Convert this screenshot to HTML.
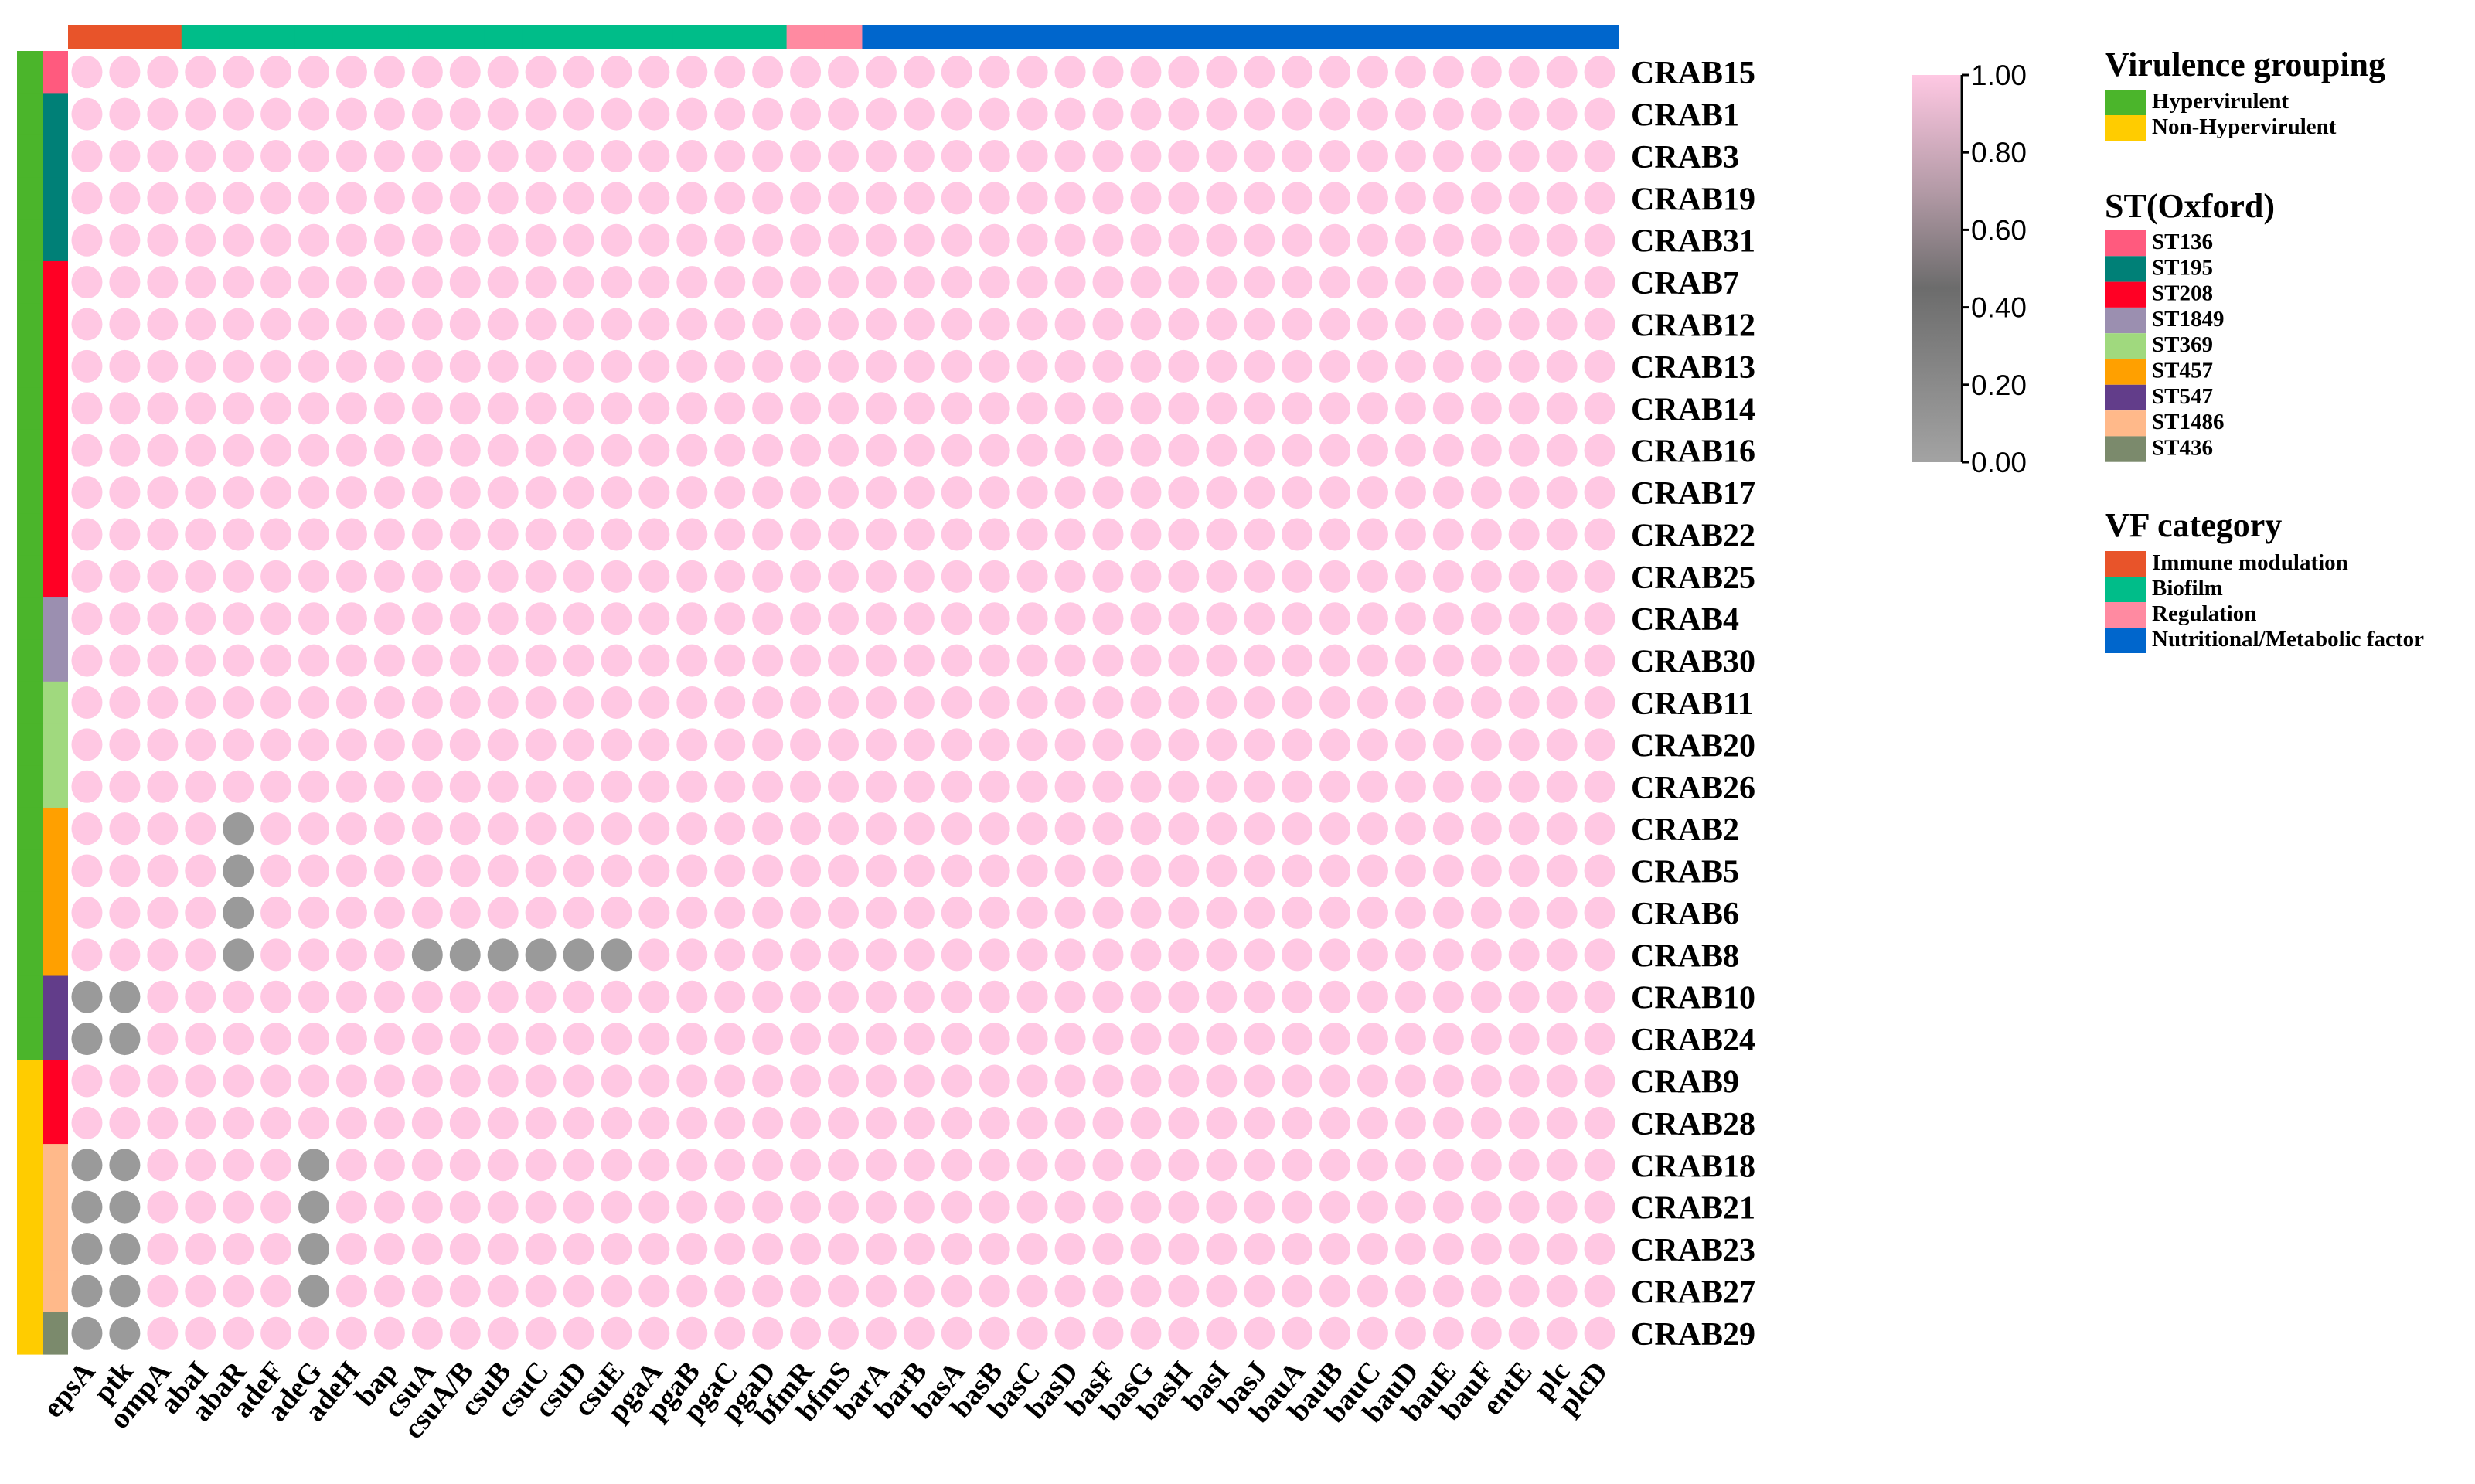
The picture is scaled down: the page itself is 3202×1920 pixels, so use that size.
<!DOCTYPE html>
<html><head><meta charset="utf-8"><style>
html,body{margin:0;padding:0;background:#fff}
svg{display:block}
text{font-family:"Liberation Serif",serif;font-weight:bold;fill:#000}
</style></head><body>
<svg id="chart" width="3202" height="1920" viewBox="0 0 3202 1920" xmlns="http://www.w3.org/2000/svg">
<defs>
<linearGradient id="cbar" x1="0" y1="1" x2="0" y2="0">
<stop offset="0" stop-color="#a3a3a3"/>
<stop offset="0.45" stop-color="#6c6c6c"/>
<stop offset="0.7" stop-color="#b39aa6"/>
<stop offset="1" stop-color="#ffc8e3"/>
</linearGradient>
</defs>
<g id="grid"></g>
<g id="legend"></g>
</svg>
<script>
const rows=["CRAB15","CRAB1","CRAB3","CRAB19","CRAB31","CRAB7","CRAB12","CRAB13","CRAB14","CRAB16","CRAB17","CRAB22","CRAB25","CRAB4","CRAB30","CRAB11","CRAB20","CRAB26","CRAB2","CRAB5","CRAB6","CRAB8","CRAB10","CRAB24","CRAB9","CRAB28","CRAB18","CRAB21","CRAB23","CRAB27","CRAB29"];
const cols=["epsA","ptk","ompA","abaI","abaR","adeF","adeG","adeH","bap","csuA","csuA/B","csuB","csuC","csuD","csuE","pgaA","pgaB","pgaC","pgaD","bfmR","bfmS","barA","barB","basA","basB","basC","basD","basF","basG","basH","basI","basJ","bauA","bauB","bauC","bauD","bauE","bauF","entE","plc","plcD"];
const colCategory=[0,0,0,1,1,1,1,1,1,1,1,1,1,1,1,1,1,1,1,2,2,3,3,3,3,3,3,3,3,3,3,3,3,3,3,3,3,3,3,3,3];
const rowVirulence=[0,0,0,0,0,0,0,0,0,0,0,0,0,0,0,0,0,0,0,0,0,0,0,0,1,1,1,1,1,1,1];
const rowST=[0,1,1,1,1,2,2,2,2,2,2,2,2,3,3,4,4,4,5,5,5,5,6,6,2,2,7,7,7,7,8];
// absent genes: [row name, column name]; everything else = 1
const absent=[["CRAB2","abaR"],["CRAB5","abaR"],["CRAB6","abaR"],["CRAB8","abaR"],["CRAB8","csuA"],["CRAB8","csuA/B"],["CRAB8","csuB"],["CRAB8","csuC"],["CRAB8","csuD"],["CRAB8","csuE"],["CRAB10","epsA"],["CRAB10","ptk"],["CRAB24","epsA"],["CRAB24","ptk"],["CRAB18","epsA"],["CRAB18","ptk"],["CRAB18","adeG"],["CRAB21","epsA"],["CRAB21","ptk"],["CRAB21","adeG"],["CRAB23","epsA"],["CRAB23","ptk"],["CRAB23","adeG"],["CRAB27","epsA"],["CRAB27","ptk"],["CRAB27","adeG"],["CRAB29","epsA"],["CRAB29","ptk"]];
const virNames=["Hypervirulent","Non-Hypervirulent"];
const virColors=["#4bb52b","#ffcc00"];
const stNames=["ST136","ST195","ST208","ST1849","ST369","ST457","ST547","ST1486","ST436"];
const stColors=["#ff5a7e","#008077","#ff0024","#9b8fb0","#a0d97e","#ffa000","#623d8a","#ffb98a","#7b8a6c"];
const vfNames=["Immune modulation","Biofilm","Regulation","Nutritional/Metabolic factor"];
const vfColors=["#e8542a","#00bd89","#ff8aa1","#0066cc"];
const cbTicks=[0,0.2,0.4,0.6,0.8,1.0];

const NS="http://www.w3.org/2000/svg";
const gx0=88,gx1=2094,gy0=66,gy1=1752;
const cw=(gx1-gx0)/cols.length, rh=(gy1-gy0)/rows.length;
const xS=i=>gx0+cw*(i+0.5), yS=i=>gy0+rh*(i+0.5);
const cbY=v=>598-(598-97)*v;
function mk(tag,attrs,parent){const e=document.createElementNS(NS,tag);for(const k in attrs)e.setAttribute(k,attrs[k]);parent.appendChild(e);return e;}
const g=document.getElementById('grid'), L=document.getElementById('legend');
function val(r,c){return absent.some(a=>a[0]===rows[r]&&a[1]===cols[c])?0:1;}
cols.forEach((c,i)=>{const e=mk('rect',{x:gx0+cw*i,y:32,width:cw+0.6,height:32,fill:vfColors[colCategory[i]]},g);

});
rows.forEach((r,j)=>{
 const a=mk('rect',{x:22,y:gy0+rh*j,width:33,height:rh+0.6,fill:virColors[rowVirulence[j]]},g);
 
 
 const b=mk('rect',{x:55,y:gy0+rh*j,width:33,height:rh+0.6,fill:stColors[rowST[j]]},g);
 
 
 const t=mk('text',{x:2110,y:yS(j)+15,'font-size':42},g);t.textContent=r;
 
 
 cols.forEach((c,i)=>{const v=val(j,i);
  const e=mk('ellipse',{cx:xS(i),cy:yS(j),rx:20,ry:21,fill:v?'#ffc8e3':'#9a9a9a'},g);
  
  });
});
cols.forEach((c,i)=>{const t=mk('text',{x:xS(i)+12,y:1775,'font-size':38,'text-anchor':'end',transform:`rotate(-50 ${xS(i)+12} 1775)`},g);t.textContent=c;
 
 });
const cb=mk('rect',{x:2474,y:97,width:62,height:501,fill:'url(#cbar)'},L);


const ax=mk('line',{x1:2538,y1:97,x2:2538,y2:598,stroke:'#000','stroke-width':3},L);


cbTicks.forEach(v=>{const l=mk('line',{x1:2538,x2:2548,y1:cbY(v),y2:cbY(v),stroke:'#000','stroke-width':3},L);
 
 
 const t=mk('text',{x:2550,y:cbY(v)+13,'font-size':37,style:'font-family:"Liberation Sans",sans-serif;font-weight:normal'},L);t.textContent=v.toFixed(2);
 
 });
function legend(title,ty,names,colors,sy,sh,key){
 const t=mk('text',{x:2723,y:ty,'font-size':44},L);t.textContent=title;
 
 
 names.forEach((n,i)=>{const r=mk('rect',{x:2723,y:sy+sh*i,width:53,height:sh,fill:colors[i]},L);
  
  
  const s=mk('text',{x:2784,y:sy+sh*i+sh*0.72,'font-size':29},L);s.textContent=n;
  
  });
}
legend('Virulence grouping',98,virNames,virColors,116,33,'virulence');
legend('ST(Oxford)',281,stNames,stColors,298,33.3,'st');
legend('VF category',694,vfNames,vfColors,713,33,'vf');
</script>
</body></html>
